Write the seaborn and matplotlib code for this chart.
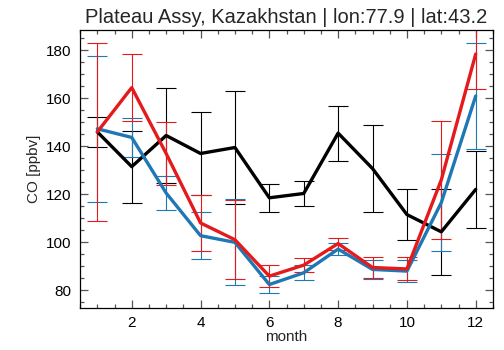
import numpy as np
import pandas as pd
import matplotlib
matplotlib.use("Agg")
import matplotlib.pyplot as plt
from matplotlib.ticker import MultipleLocator
import seaborn as sns

# Monthly CO climatology (ppbv) with one-sigma spreads
months = list(range(1, 13))
black_vals = [146, 131.5, 144.5, 137, 139.5, 118.5, 120.3, 145.5, 130.7, 111.5, 104.3, 122]
black_err = [6.3, 15, 20, 17.5, 23.4, 5.9, 5.4, 11.5, 18, 10.7, 18, 16]
red_vals = [146, 164.5, 137, 108, 101, 85.8, 90.4, 99.4, 89.4, 88.8, 126, 178.5]
red_err = [37, 14, 13, 11.6, 16.5, 4.7, 3, 2.5, 4.3, 4.8, 24.7, 14.7]
blue_vals = [147.3, 143.7, 120.5, 102.7, 99.9, 82.3, 87.2, 97.1, 88.6, 87.9, 116.5, 161]
blue_err = [30.5, 8, 7, 9.8, 18, 3.7, 3.2, 2.5, 4, 4.5, 20.2, 22]

series = [
    ("black", black_vals, black_err, "black"),
    ("blue", blue_vals, blue_err, "#1f78b4"),
    ("red", red_vals, red_err, "#e41a1c"),
]

sns.set_style("ticks")
plt.rcParams["font.family"] = ["Liberation Sans", "DejaVu Sans"]

fig = plt.figure(figsize=(5.04, 3.5), dpi=100)
ax = fig.add_axes([0.159, 0.12, 0.819, 0.794])

for name, vals, err, col in series:
    df = pd.DataFrame({"month": months, "co": vals})
    ax.errorbar(months, vals, yerr=err, fmt="none", ecolor=col,
                elinewidth=0.8, capsize=7.5, capthick=0.8, zorder=2)
    sns.lineplot(data=df, x="month", y="co", color=col, linewidth=2.4,
                 ax=ax, zorder=3)

ax.set_xlim(0.5, 12.5)
ax.set_ylim(72.5, 188.5)
ax.xaxis.set_major_locator(MultipleLocator(2))
ax.xaxis.set_minor_locator(MultipleLocator(0.5))
ax.yaxis.set_major_locator(MultipleLocator(20))
ax.yaxis.set_minor_locator(MultipleLocator(5))
ax.tick_params(which="both", direction="in", top=True, right=True,
               labelsize=11, pad=6, width=0.9, color="#555555",
               labelcolor="black")
ax.tick_params(which="major", length=6)
ax.tick_params(which="minor", length=3)
for s in ax.spines.values():
    s.set_linewidth(0.9)
    s.set_color("black")

ax.set_xlabel("month", fontsize=11, labelpad=0)
ax.set_ylabel("CO [ppbv]", fontsize=11, labelpad=4)
ax.set_title("Plateau Assy, Kazakhstan | lon:77.9 | lat:43.2", fontsize=14.5, pad=5)

fig.savefig("out.png", dpi=100)
